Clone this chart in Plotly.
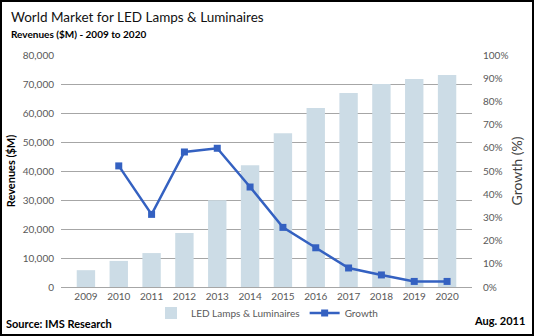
import plotly.graph_objects as go

years = ["2009","2010","2011","2012","2013","2014","2015","2016","2017","2018","2019","2020"]
revenues = [5800, 9000, 11700, 18600, 29900, 42000, 53000, 61700, 66900, 70000, 71700, 73100]
growth = [None, 52.2, 31.3, 58.2, 59.8, 43.1, 25.7, 16.9, 8.2, 5.2, 2.4, 2.4]

FONT = "Lato"
fig = go.Figure()
fig.add_trace(go.Bar(x=years, y=revenues, name="LED Lamps & Luminaires",
                     marker=dict(color="#ccdce6", line=dict(width=0))))
fig.add_trace(go.Scatter(x=years, y=growth, name="Growth", yaxis="y2",
                         mode="lines+markers",
                         line=dict(color="#3461c1", width=2.5),
                         marker=dict(symbol="square", size=7, color="#3461c1")))

fig.update_layout(
    width=534, height=336,
    margin=dict(l=61, r=62, t=55, b=49, autoexpand=False),
    paper_bgcolor="white", plot_bgcolor="white",
    font=dict(family=FONT, size=10, color="#595959"),
    bargap=0.44,
    showlegend=True,
    legend=dict(orientation="h", x=0.5, xanchor="center", xref="container",
                y=23/336, yanchor="middle", yref="container",
                font=dict(size=10, color="#595959"), itemwidth=30,
                bgcolor="rgba(0,0,0,0)"),
    xaxis=dict(showgrid=False, showline=True, linecolor="#a6a6a6", ticks="", automargin=False,
               tickfont=dict(size=10, color="#595959")),
    yaxis=dict(range=[0, 80000], dtick=10000, tickformat=",", gridcolor="#a6a6a6",
               showline=False, zeroline=False, ticks="", ticklabelstandoff=6, automargin=False,
               title=dict(text="Revenues ($M)", font=dict(size=11, color="#000", family=FONT, weight="bold"), standoff=4),
               tickfont=dict(size=10, color="#595959")),
    yaxis2=dict(range=[0, 100], dtick=10, ticksuffix="%", overlaying="y", side="right",
                showgrid=False, zeroline=False, showline=False, automargin=False,
                ticklabelstandoff=10,
                title=dict(text="Growth (%)", font=dict(size=14, color="#404040", family=FONT), standoff=4),
                tickfont=dict(size=10, color="#595959")),
)

fig.add_annotation(text="World Market for LED Lamps & Luminaires", xref="paper", yref="paper",
                   x=-52/411, y=1+(55-7)/232, xanchor="left", yanchor="top", showarrow=False,
                   font=dict(size=13.5, color="#111", family=FONT))
fig.add_annotation(text="<b>Revenues ($M) - 2009 to 2020</b>", xref="paper", yref="paper",
                   x=-52/411, y=1+(55-26)/232, xanchor="left", yanchor="top", showarrow=False,
                   font=dict(size=10, color="#000", family=FONT))
fig.add_annotation(text="<b>Source: IMS Research</b>", xref="paper", yref="paper",
                   x=-57/411, y=-(315-287)/232, xanchor="left", yanchor="top", showarrow=False,
                   font=dict(size=11, color="#000", family=FONT))
fig.add_annotation(text="<b>Aug. 2011</b>", xref="paper", yref="paper",
                   x=1+(527-472)/411, y=-(312-287)/232, xanchor="right", yanchor="top", showarrow=False,
                   font=dict(size=11, color="#000", family=FONT))
fig.add_shape(type="rect", xref="paper", yref="paper",
              x0=-60/411, x1=1+61/411, y0=-48/232, y1=1+54/232,
              line=dict(color="#000", width=2), layer="above")

fig.write_html("out.html")
